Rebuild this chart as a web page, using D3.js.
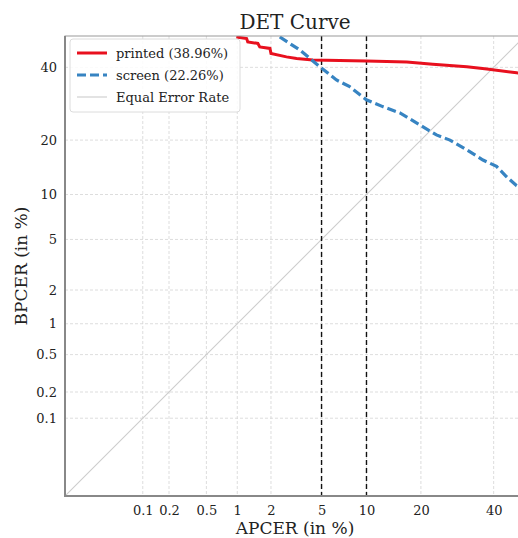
<!DOCTYPE html>
<html lang="en">
<head>
<meta charset="utf-8">
<title>DET Curve</title>
<script src="https://d3js.org/d3.v7.min.js"></script>
<style>
  body { margin: 0; background: #fff; }
  text { font-family: "DejaVu Serif", serif; fill: #222; }
  .grid line { stroke: #d4d4d4; stroke-width: 0.8px; stroke-dasharray: 3,2; }
  .axis path, .axis line { display: none; }
</style>
</head>
<body>
<script>
// values in %
var tickLabels = [0.1, 0.2, 0.5, 1, 2, 5, 10, 20, 40];
var axisLimits = [0.01, 50];
var thresholds = [5, 10];

var printedApcer = [0.98, 1.22, 1.25, 1.54, 1.60, 1.96, 2.0, 2.69, 3.24, 4.31, 10.0, 16.96, 22.8, 31.9, 37.9, 47.3, 50];
var printedBpcer = [49.7, 49.2, 48.1, 47.6, 46.5, 46.0, 44.4, 43.3, 42.8, 42.3, 42.0, 41.7, 41.0, 40.2, 39.5, 38.3, 38.0];

var screenApcer = [2.37, 3.43, 4.86, 6.37, 7.82, 9.99, 12.5, 15.6, 20.4, 23.7, 27.2, 31.8, 36.7, 40.9, 44.0, 47.3, 50];
var screenBpcer = [49.7, 45.5, 40.2, 36.1, 34.1, 30.3, 28.4, 26.7, 23.2, 21.2, 20.0, 17.9, 15.8, 14.6, 12.8, 11.3, 10.6];

var seriesNames = ["printed (38.96%)", "screen (22.26%)", "Equal Error Rate"];

// inverse normal cdf (Acklam)
function probit(p) {
  var a = [-39.69683028665376, 220.9460984245205, -275.9285104469687, 138.3577518672690, -30.66479806614716, 2.506628277459239];
  var b = [-54.47609879822406, 161.5858368580409, -155.6989798598866, 66.80131188771972, -13.28068155288572];
  var c = [-0.007784894002430293, -0.3223964580411365, -2.400758277161838, -2.549732539343734, 4.374664141464968, 2.938163982698783];
  var d = [0.007784695709041462, 0.3224671290700398, 2.445134137142996, 3.754408661907416];
  var q, r;
  if (p < 0.02425) {
    q = Math.sqrt(-2 * Math.log(p));
    return (((((c[0]*q+c[1])*q+c[2])*q+c[3])*q+c[4])*q+c[5]) / ((((d[0]*q+d[1])*q+d[2])*q+d[3])*q+1);
  } else if (p <= 1 - 0.02425) {
    q = p - 0.5; r = q * q;
    return (((((a[0]*r+a[1])*r+a[2])*r+a[3])*r+a[4])*r+a[5])*q / (((((b[0]*r+b[1])*r+b[2])*r+b[3])*r+b[4])*r+1);
  } else {
    q = Math.sqrt(-2 * Math.log(1 - p));
    return -(((((c[0]*q+c[1])*q+c[2])*q+c[3])*q+c[4])*q+c[5]) / ((((d[0]*q+d[1])*q+d[2])*q+d[3])*q+1);
  }
}
function pr(v) { return probit(v / 100); }

var w = 518, h = 538;
var margin = {left: 65, top: 36};
var size = 460;

var svg = d3.select("body").append("svg")
  .attr("width", w).attr("height", h);

var x = d3.scaleLinear().domain(axisLimits.map(pr)).range([margin.left, margin.left + size]);
var y = d3.scaleLinear().domain(axisLimits.map(pr)).range([margin.top + size, margin.top]);

svg.append("defs").append("clipPath").attr("id", "clip")
  .append("rect").attr("x", margin.left).attr("y", margin.top).attr("width", size).attr("height", size);

// grid
var grid = svg.append("g").attr("class", "grid");
grid.selectAll(".gx").data(tickLabels).enter().append("line")
  .attr("x1", function(d) { return x(pr(d)); }).attr("x2", function(d) { return x(pr(d)); })
  .attr("y1", margin.top).attr("y2", margin.top + size);
grid.selectAll(".gy").data(tickLabels).enter().append("line")
  .attr("y1", function(d) { return y(pr(d)); }).attr("y2", function(d) { return y(pr(d)); })
  .attr("x1", margin.left).attr("x2", margin.left + size);

// axes
var fmt = function(v, i) { return tickLabels[i]; };
svg.append("g").attr("class", "axis")
  .attr("transform", "translate(0," + (margin.top + size) + ")")
  .call(d3.axisBottom(x).tickValues(tickLabels.map(pr)).tickFormat(fmt).tickSize(0).tickPadding(10))
  .selectAll("text").style("font-size", "13px").style("font-family", "DejaVu Serif").attr("fill", "#222");
svg.append("g").attr("class", "axis")
  .attr("transform", "translate(" + margin.left + ",0)")
  .call(d3.axisLeft(y).tickValues(tickLabels.map(pr)).tickFormat(fmt).tickSize(0).tickPadding(8))
  .selectAll("text").style("font-size", "13px").style("font-family", "DejaVu Serif").attr("fill", "#222");

var plot = svg.append("g").attr("clip-path", "url(#clip)");

// equal error rate diagonal
plot.append("line")
  .attr("x1", x(pr(axisLimits[0]))).attr("y1", y(pr(axisLimits[0])))
  .attr("x2", x(pr(axisLimits[1]))).attr("y2", y(pr(axisLimits[1])))
  .attr("stroke", "#cccccc").attr("stroke-width", 1.1);

// thresholds
plot.selectAll(".thr").data(thresholds).enter().append("line")
  .attr("x1", function(d) { return x(pr(d)); }).attr("x2", function(d) { return x(pr(d)); })
  .attr("y1", margin.top).attr("y2", margin.top + size)
  .attr("stroke", "#111").attr("stroke-width", 1.4).attr("stroke-dasharray", "5,3");

var line = d3.line()
  .x(function(d) { return x(pr(d[0])); })
  .y(function(d) { return y(pr(d[1])); });

plot.append("path")
  .datum(d3.zip(printedApcer, printedBpcer))
  .attr("d", line).attr("fill", "none")
  .attr("stroke", "#e8101e").attr("stroke-width", 3);

plot.append("path")
  .datum(d3.zip(screenApcer, screenBpcer))
  .attr("d", line).attr("fill", "none")
  .attr("stroke", "#3784c2").attr("stroke-width", 3.2).attr("stroke-dasharray", "9,4");

// spines
svg.append("rect")
  .attr("x", margin.left).attr("y", margin.top).attr("width", size).attr("height", size)
  .attr("fill", "none").attr("stroke", "#999").attr("stroke-width", 1);
svg.append("path")
  .attr("d", "M" + margin.left + "," + margin.top + "V" + (margin.top + size) + "H" + (margin.left + size))
  .attr("fill", "none").attr("stroke", "#888").attr("stroke-width", 2);

// legend
var lg = svg.append("g").attr("transform", "translate(70,39)");
lg.append("rect").attr("width", 170).attr("height", 73).attr("rx", 3)
  .attr("fill", "#fff").attr("fill-opacity", 0.85).attr("stroke", "#dcdcdc");
var styles = [
  {c: "#e8101e", w: 3, dash: null},
  {c: "#3784c2", w: 3.2, dash: "9,4"},
  {c: "#cccccc", w: 1.1, dash: null}
];
seriesNames.forEach(function(n, i) {
  var yy = 14 + i * 22;
  lg.append("line").attr("x1", 7).attr("x2", 37).attr("y1", yy).attr("y2", yy)
    .attr("stroke", styles[i].c).attr("stroke-width", styles[i].w)
    .attr("stroke-dasharray", styles[i].dash);
  lg.append("text").attr("x", 46).attr("y", yy + 4.5)
    .style("font-size", "13px").text(n);
});

// titles
svg.append("text").attr("x", margin.left + size / 2).attr("y", 29)
  .attr("text-anchor", "middle").style("font-size", "20px").text("DET Curve");
svg.append("text").attr("x", margin.left + size / 2).attr("y", 534)
  .attr("text-anchor", "middle").style("font-size", "17px").text("APCER (in %)");
svg.append("text").attr("transform", "translate(27," + (margin.top + size / 2) + ") rotate(-90)")
  .attr("text-anchor", "middle").style("font-size", "17px").text("BPCER (in %)");
</script>
</body>
</html>
